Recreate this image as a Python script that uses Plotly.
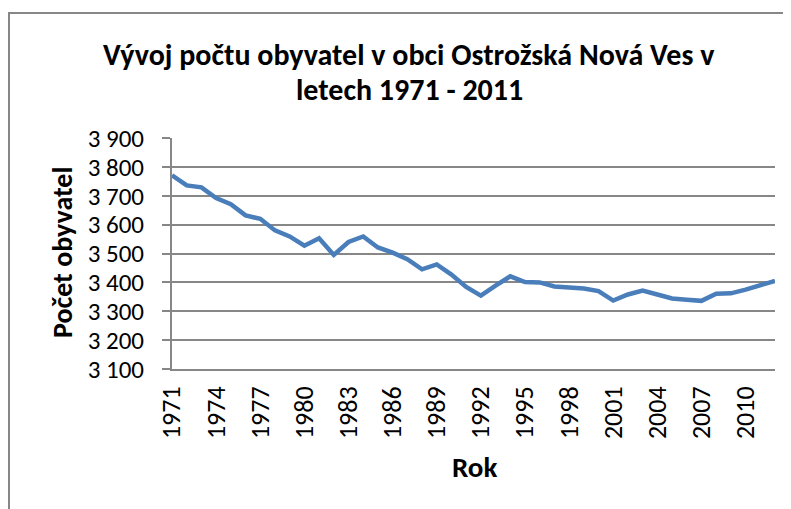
import plotly.graph_objects as go

years = [str(y) for y in range(1971, 2013)]
population = [3771, 3736, 3729, 3692, 3671, 3632, 3620, 3580, 3559, 3527,
              3553, 3495, 3540, 3559, 3521, 3503, 3480, 3445, 3462, 3427,
              3384, 3354, 3389, 3421, 3401, 3400, 3386, 3383, 3379, 3370,
              3337, 3358, 3372, 3358, 3344, 3340, 3336, 3361, 3362, 3375,
              3389, 3405]
x_tick_labels = [str(y) for y in range(1971, 2011, 3)]
y_ticks = [3100, 3200, 3300, 3400, 3500, 3600, 3700, 3800, 3900]

title_line1 = "Vývoj počtu obyvatel v obci Ostrožská Nová Ves v"
title_line2 = "letech 1971 - 2011"
x_title = "Rok"
y_title = "Počet obyvatel"

FONT = "Carlito, Calibri, Lato, sans-serif"
GRID = "#878787"

fig = go.Figure()
fig.add_trace(go.Scatter(
    x=years, y=population, mode="lines",
    line=dict(color="#4A7EBB", width=4.5),
    hoverinfo="x+y", showlegend=False,
))

OFF = 8  # page body margin
W, H = 791 - OFF, 509 - OFF
L = 172 - OFF
T = 138 - OFF
R = W - (775 - OFF)
B = H - (369 - OFF)
pw, ph = W - L - R, H - T - B

def px_to_paper_x(px):
    return (px - OFF - L) / pw

def px_to_paper_y(py):
    return (H - B - (py - OFF)) / ph

fig.update_layout(
    width=W, height=H,
    margin=dict(l=L, r=R, t=T, b=B, pad=0),
    paper_bgcolor="white", plot_bgcolor="white",
    separators=", ",
    font=dict(family=FONT, size=26, color="black"),
    xaxis=dict(
        type="category",
        tickmode="array", tickvals=x_tick_labels, ticktext=x_tick_labels,
        tickangle=-90,
        showgrid=False,
        showline=True, linecolor=GRID, linewidth=2,
        ticks="", ticklabelstandoff=5,
        tickfont=dict(family=FONT, size=26, color="black"),
        zeroline=False,
    ),
    yaxis=dict(
        range=[3100, 3900],
        tickmode="array", tickvals=y_ticks,
        tickformat=",d",
        showgrid=True, gridcolor=GRID, gridwidth=2,
        showline=True, linecolor=GRID, linewidth=2,
        ticks="outside", ticklen=8, tickcolor=GRID, tickwidth=2,
        ticklabelstandoff=13,
        tickfont=dict(family=FONT, size=25, color="black"),
        zeroline=False,
    ),
    shapes=[dict(
        type="rect", xref="paper", yref="paper",
        x0=px_to_paper_x(9), x1=px_to_paper_x(830),
        y0=px_to_paper_y(560), y1=px_to_paper_y(13),
        line=dict(color="#878787", width=2), fillcolor="rgba(0,0,0,0)",
        layer="below",
    )],
    annotations=[
        dict(text="<b>" + title_line1 + "</b>", xref="paper", yref="paper",
             x=px_to_paper_x(409), y=px_to_paper_y(54), xanchor="center", yanchor="middle",
             showarrow=False, font=dict(family=FONT, size=30, color="black")),
        dict(text="<b>" + title_line2 + "</b>", xref="paper", yref="paper",
             x=px_to_paper_x(409), y=px_to_paper_y(90), xanchor="center", yanchor="middle",
             showarrow=False, font=dict(family=FONT, size=30, color="black")),
        dict(text="<b>" + x_title + "</b>", xref="paper", yref="paper",
             x=px_to_paper_x(474), y=px_to_paper_y(467), xanchor="center", yanchor="middle",
             showarrow=False, font=dict(family=FONT, size=29, color="black")),
        dict(text="<b>" + y_title + "</b>", xref="paper", yref="paper",
             x=px_to_paper_x(62), y=px_to_paper_y(253), xanchor="center", yanchor="middle",
             showarrow=False, textangle=-90, font=dict(family=FONT, size=28, color="black")),
    ],
)

fig.write_html("out.html")
